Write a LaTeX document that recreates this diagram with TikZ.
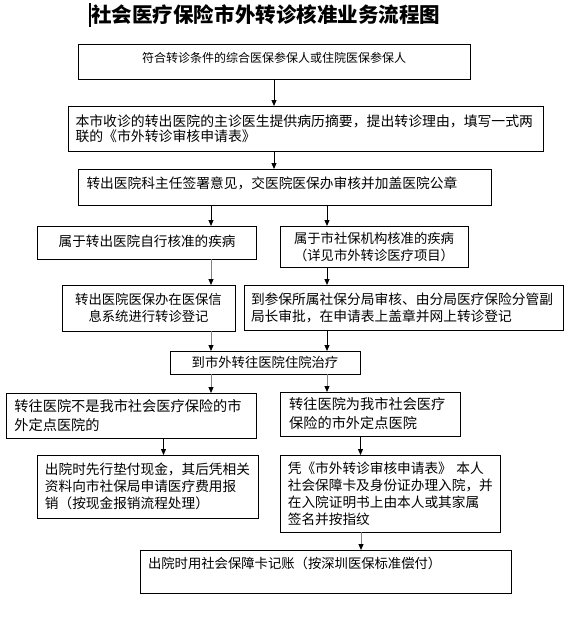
\documentclass[tikz,border=0pt]{standalone}
\usepackage{fontspec}
\setmainfont{Noto Sans CJK SC}
\usetikzlibrary{arrows.meta}
\tikzset{
  box/.style={draw, line width=0.75pt, anchor=north west, inner ysep=0pt, outer sep=0pt},
  arr/.style={line width=0.75pt, -{Triangle[length=4.5pt,width=3.75pt]}},
  garr/.style={line width=0.75pt, draw=gray, -{Triangle[length=4.5pt,width=3.75pt,black]}},
  fa/.style={font=\fontsize{10pt}{12.75pt}\selectfont},
  fb/.style={font=\fontsize{10.25pt}{12.75pt}\selectfont},
}
\begin{document}
\begin{tikzpicture}[x=0.75pt,y=-0.75pt]
\useasboundingbox (0,0) rectangle (574,643);
% title
\draw[line width=1.5pt] (90,3) -- (90,27);
\node[anchor=west, inner sep=0pt, font=\fontsize{15.4pt}{18pt}\selectfont\bfseries] (title) at (91,15) {社会医疗保险市外转诊核准业务流程图};
% column coordinates
\coordinate (xm) at (274,0);
\coordinate (xl) at (211,0);
\coordinate (xr) at (327,0);
\coordinate (x7l) at (163.5,0);
\coordinate (x7r) at (360.5,0);
\coordinate (x9) at (361,0);
% boxes
\node[box, minimum width=294pt, minimum height=26.25pt, text width=294pt, inner xsep=0pt, align=center, font=\fontsize{9pt}{11pt}\selectfont, text height=7.5pt, text depth=5.9pt] (b1) at (78,44) {符合转诊条件的综合医保参保人或住院医保参保人};
\node[box, minimum width=356.25pt, minimum height=33.75pt, text width=345pt, inner xsep=5.625pt, align=left, font=\fontsize{10.4pt}{11.25pt}\selectfont] (b2) at (68,106) {本市收诊的转出医院的主诊医生提供病历摘要，提出转诊理由，填写一式两\\联的《市外转诊审核申请表》};
\node[box, minimum width=309.75pt, minimum height=27pt, text width=297pt, inner xsep=6.375pt, align=left, font=\fontsize{10.3pt}{12pt}\selectfont, text height=8.5pt, text depth=6.9pt] (b3) at (78,169) {转出医院科主任签署意见，交医院医保办审核并加盖医院公章};
\node[box, minimum width=164.25pt, minimum height=24.75pt, text width=164.25pt, inner xsep=0pt, align=center, font=\fontsize{10.2pt}{12pt}\selectfont, text height=8.4pt, text depth=2.9pt] (b4l) at (37.6,226) {属于转出医院自行核准的疾病};
\node[box, minimum width=141pt, minimum height=30.75pt, text width=141pt, inner xsep=0pt, align=center, fa] (b4r) at (280,226) {属于市社保机构核准的疾病\\（详见市外转诊医疗项目）};
\node[box, minimum width=129.75pt, minimum height=34.5pt, text width=129.75pt, inner xsep=0pt, align=center, fa] (b5l) at (62,285) {转出医院医保办在医保信\\息系统进行转诊登记};
\node[box, minimum width=239.25pt, minimum height=33.75pt, text width=228.75pt, inner xsep=5.25pt, align=left, font=\fontsize{10.3pt}{12.75pt}\selectfont] (b5r) at (244,285) {到参保所属社保分局审核、由分局医疗保险分管副\\局长审批，在申请表上盖章并网上转诊登记};
\node[box, minimum width=142.5pt, minimum height=17.25pt, text width=142.5pt, inner xsep=0pt, align=center, fa] (b6) at (170,351) {到市外转往医院住院治疗};
\node[box, minimum width=187.5pt, minimum height=33.75pt, text width=174.9pt, inner xsep=6.3pt, align=left, font=\fontsize{10.65pt}{14.25pt}\selectfont] (b7l) at (6,393) {转往医院不是我市社会医疗保险的市\\外定点医院的};
\node[box, minimum width=135pt, minimum height=33pt, text width=122pt, inner xsep=6.5pt, align=left, font=\fontsize{10.65pt}{14.25pt}\selectfont] (b7r) at (280.5,392) {转往医院为我市社会医疗\\保险的市外定点医院};
\node[box, minimum width=166pt, minimum height=47.25pt, text width=155pt, inner xsep=5.5pt, align=left, fb] (b8l) at (37.6,455) {出院时先行垫付现金，其后凭相关\\资料向市社保局申请医疗费用报\\销（按现金报销流程处理）};
\node[box, minimum width=165pt, minimum height=57.75pt, text width=154pt, inner xsep=5.5pt, align=left, fb] (b8r) at (280.5,455) {凭《市外转诊审核申请表》 本人\\社会保障卡及身份证办理入院，并\\在入院证明书上由本人或其家属\\签名并按指纹};
\node[box, minimum width=278.25pt, minimum height=32.25pt, text width=266.25pt, inner xsep=6pt, align=left, fa, text height=8.3pt, text depth=13.5pt] (b9) at (140,550) {出院时用社会保障卡记账（按深圳医保标准偿付）};
% connectors
\draw[arr] (b1.south -| xm) -- (b2.north -| xm);
\draw[arr] (b2.south -| xm) -- (b3.north -| xm);
\draw[arr] (b3.south -| xl) -- (b4l.north -| xl);
\draw[arr] (b3.south -| xr) -- (b4r.north -| xr);
\draw[garr] (b4l.south -| xl) -- (b5l.north -| xl);
\draw[arr] (b4r.south -| xr) -- (b5r.north -| xr);
\draw[garr] (b5l.south -| xl) -- (b6.north -| xl);
\draw[arr] (b5r.south -| xr) -- (b6.north -| xr);
\draw[garr] (b6.south -| xl) -- (b7l.north -| xl);
\draw[garr] (b6.south -| xr) -- (b7r.north -| xr);
\draw[arr] (b7l.south -| x7l) -- (b8l.north -| x7l);
\draw[arr] (b7r.south -| x7r) -- (b8r.north -| x7r);
\draw[garr] (b8r.south -| x9) -- (b9.north -| x9);
\end{tikzpicture}
\end{document}
